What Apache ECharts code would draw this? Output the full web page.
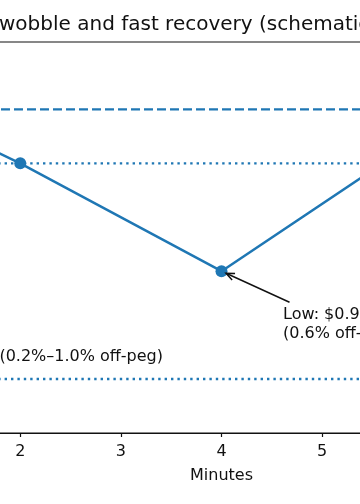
<!DOCTYPE html>
<html>
<head>
<meta charset="utf-8">
<script src="https://cdn.jsdelivr.net/npm/echarts@6/dist/echarts.min.js"></script>
<style>
html,body{margin:0;padding:0;background:#fff;}
#chart{width:360px;height:504px;}
</style>
</head>
<body>
<div id="chart"></div>
<script>
// ---- data ----
const minutes = [0, 1, 2, 4, 6, 8];
const price = [1.0000, 0.9998, 0.998, 0.994, 0.999, 1.000];
const pegLevel = 1.000;
const bandUpper = 0.998;
const bandLower = 0.990;
const xTicks = [0, 1, 2, 3, 4, 5, 6, 7, 8];
const lowPoint = [4, 0.994];
const titlePrefix = 'Peg ';
const titleText = 'Peg wobble and fast recovery (schematic)';
const annoText = 'Low: $0.994\n(0.6% off-peg)';
const bandText = 'Wobble band (0.2%–1.0% off-peg)';
const xName = 'Minutes';

const blue = '#1f77b4';
const FONT = 'DejaVu Sans';
const TITLE_SIZE = 20;

const chart = echarts.init(document.getElementById('chart'), null, {renderer: 'canvas'});

const seriesData = minutes.map((m, i) => [m, price[i]]);
const xMin = xTicks[0], xMax = xTicks[xTicks.length - 1];
function hline(v, dash) {
  return {
    type: 'line', data: [[xMin, v], [xMax, v]], symbol: 'none', silent: true,
    lineStyle: {color: blue, width: 2.4, type: dash, cap: 'butt'}, z: 3
  };
}

chart.setOption({
  animation: false,
  backgroundColor: '#fff',
  grid: {
    left: -181, top: 42, width: 805, height: 391, containLabel: false,
    outerBoundsMode: 'none',
    show: true, borderColor: '#111', borderWidth: 1.2, backgroundColor: 'transparent'
  },
  xAxis: {
    type: 'value', min: xMin, max: xMax, interval: 1,
    name: xName, nameLocation: 'middle', nameGap: 35,
    nameTextStyle: {fontFamily: FONT, fontSize: 16, color: '#111'},
    axisLine: {show: true, lineStyle: {color: '#111', width: 1.2}},
    axisTick: {show: true, length: 4, lineStyle: {color: '#111', width: 1.2}},
    axisLabel: {fontFamily: FONT, fontSize: 16, color: '#111', margin: 11},
    splitLine: {show: false}
  },
  yAxis: {
    type: 'value', min: 0.988, max: 1.0025, show: false,
    splitLine: {show: false}
  },
  series: [
    hline(pegLevel, [9, 4]),
    hline(bandUpper, [2.4, 4]),
    hline(bandLower, [2.4, 4]),
    {
      type: 'line', data: seriesData, symbol: 'circle', symbolSize: 12,
      lineStyle: {color: blue, width: 2.5}, itemStyle: {color: blue},
      z: 5
    }
  ]
});

// annotation arrow from text to the low point
const tip = chart.convertToPixel({gridIndex: 0}, lowPoint);
const tail = [tip[0] + 68, tip[1] + 31];
const dx = tail[0] - tip[0], dy = tail[1] - tip[1];
const len = Math.sqrt(dx * dx + dy * dy);
const ux = dx / len, uy = dy / len;
const s = [tip[0] + ux * 5, tip[1] + uy * 5];
const head = 9, spread = 0.4;
function rot(a) {
  return [s[0] + head * (ux * Math.cos(a) - uy * Math.sin(a)), s[1] + head * (ux * Math.sin(a) + uy * Math.cos(a))];
}
const cv = document.createElement('canvas').getContext('2d');
cv.font = TITLE_SIZE + 'px "' + FONT + '"';
const prefixW = cv.measureText(titlePrefix).width;

chart.setOption({
  graphic: [
    {type: 'line', shape: {x1: s[0], y1: s[1], x2: tail[0], y2: tail[1]}, style: {stroke: '#111', lineWidth: 1.5}, z: 10},
    {type: 'polyline', shape: {points: [rot(spread), s, rot(-spread)]}, style: {stroke: '#111', lineWidth: 1.5, fill: null}, z: 10},
    {type: 'text', x: 283, y: 305, style: {text: annoText, fontFamily: FONT, fontSize: 16, lineHeight: 19, fill: '#111', textAlign: 'left', textVerticalAlign: 'top'}, z: 10},
    {type: 'text', x: 163, y: 357, style: {text: bandText, fontFamily: FONT, fontSize: 16, fill: '#111', textAlign: 'right', textVerticalAlign: 'middle'}, z: 10},
    {type: 'text', x: -1 - prefixW, y: 25, style: {text: titleText, fontFamily: FONT, fontSize: TITLE_SIZE, fill: '#111', textAlign: 'left', textVerticalAlign: 'middle'}, z: 10}
  ]
});
</script>
</body>
</html>
